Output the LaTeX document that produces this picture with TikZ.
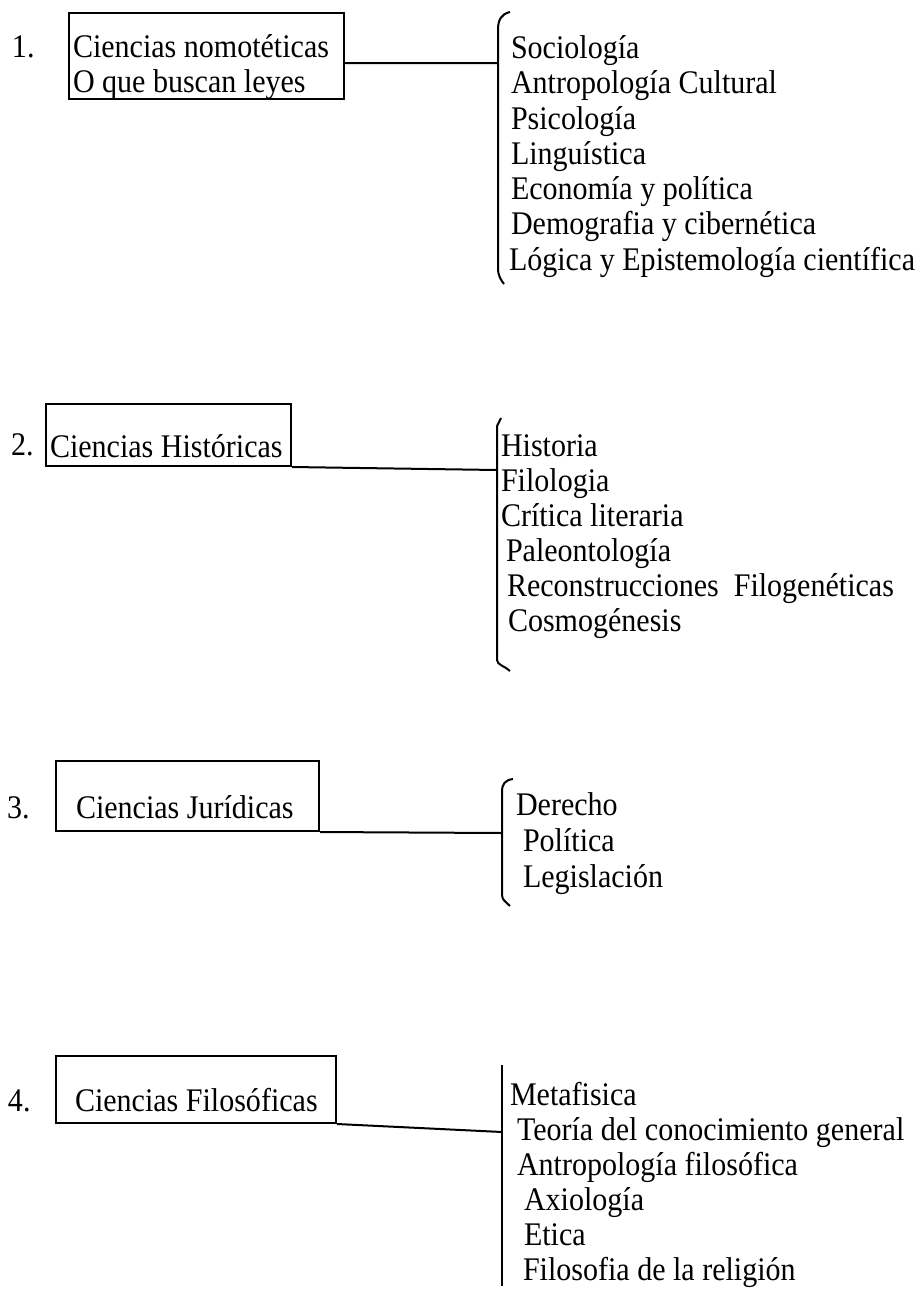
\documentclass[tikz,border=0pt]{standalone}
\usepackage{fontspec}
\setmainfont{Liberation Serif}[FakeStretch=0.91]
\usepackage{tikz}

\begin{document}
\begin{tikzpicture}[x=1pt,y=-1pt,line width=2pt]
		\tikzstyle{every node}=[inner sep=0pt,font=\fontsize{33}{35}\selectfont]
		\tikzstyle{box}=[draw,anchor=north west,align=flush left,inner ysep=0pt,text height=44pt,text depth=0pt]
		\tikzstyle{item}=[anchor=base west]

		\useasboundingbox (0,0) rectangle (922,1291);

		% numbers and boxes
		\node[item] (N1) at (11, 57) {1.};
		\node[item] (N2) at (10, 455) {2.};
		\node[item] (N3) at (6, 818) {3.};
		\node[item] (N4) at (7, 1111) {4.};
		\node[box,inner xsep=4pt,text width=267pt,minimum height=86pt,text height=34pt,text depth=32pt] (CN) at (68, 12) {Ciencias nomotéticas\\O que buscan leyes};
		\node[box,inner xsep=4pt,text width=237pt,minimum height=62pt] (CH) at (45, 403) {\mbox{Ciencias Históricas}};
		\node[box,inner xsep=20pt,text width=223pt,minimum height=70pt] (CJ) at (55, 760) {\mbox{Ciencias Jurídicas}};
		\node[box,inner xsep=19pt,text width=242pt,minimum height=67pt] (CF) at (55, 1055) {\mbox{Ciencias Filosóficas}};

		% lists
		\node[item] (Soc) at (510, 58) {Sociología};
		\node[item] (AntC) at (510, 93) {Antropología Cultural};
		\node[item] (Psi) at (510, 129) {Psicología};
		\node[item] (Lin) at (510, 164) {Linguística};
		\node[item] (Eco) at (510, 199) {Economía y política};
		\node[item] (Dem) at (510, 234) {Demografia y cibernética};
		\node[item] (Log) at (508, 270) {Lógica y Epistemología científica};

		\node[item] (His) at (500, 456) {Historia};
		\node[item] (Fil) at (500, 491) {Filologia};
		\node[item] (Cri) at (500, 526) {Crítica literaria};
		\node[item] (Pal) at (505, 561) {Paleontología};
		\node[item] (Rec) at (506, 596) {Reconstrucciones\ \ Filogenéticas};
		\node[item] (Cos) at (507, 631) {Cosmogénesis};

		\node[item] (Der) at (515, 815) {Derecho};
		\node[item] (Pol) at (522, 851) {Política};
		\node[item] (Leg) at (522, 887) {Legislación};

		\node[item] (Met) at (509, 1105) {Metafisica};
		\node[item] (Teo) at (516, 1140) {Teoría del conocimiento general};
		\node[item] (AntF) at (516, 1175) {Antropología filosófica};
		\node[item] (Axi) at (523, 1210) {Axiología};
		\node[item] (Eti) at (523, 1245) {Etica};
		\node[item] (Frel) at (522, 1280) {Filosofia de la religión};

		% brackets
		\coordinate (J1) at (498, 63);
		\coordinate (J2) at (497, 470);
		\coordinate (J3) at (502, 833);
		\coordinate (J4) at (502, 1132);
		\draw (510, 12) .. controls (501, 14) and (498, 20) .. (498, 30) -- (498, 268) .. controls (498, 276) and (501, 280) .. (504, 284);
		\draw (501, 418) -- (497, 426) -- (497, 660) .. controls (497, 665) and (505, 666) .. (510, 671);
		\draw (513, 779) .. controls (505, 780) and (502, 784) .. (502, 792) -- (502, 895) .. controls (502, 900) and (506, 902) .. (510, 906);
		\draw (502, 1065) -- (502, 1286);

		% connectors
		\path[draw]
			(J1 -| CN.east) -- (J1)
			(CH.south east) -- (J2)
			(CJ.south east) -- (J3)
			(CF.south east) -- (J4);
	\end{tikzpicture}
\end{document}
